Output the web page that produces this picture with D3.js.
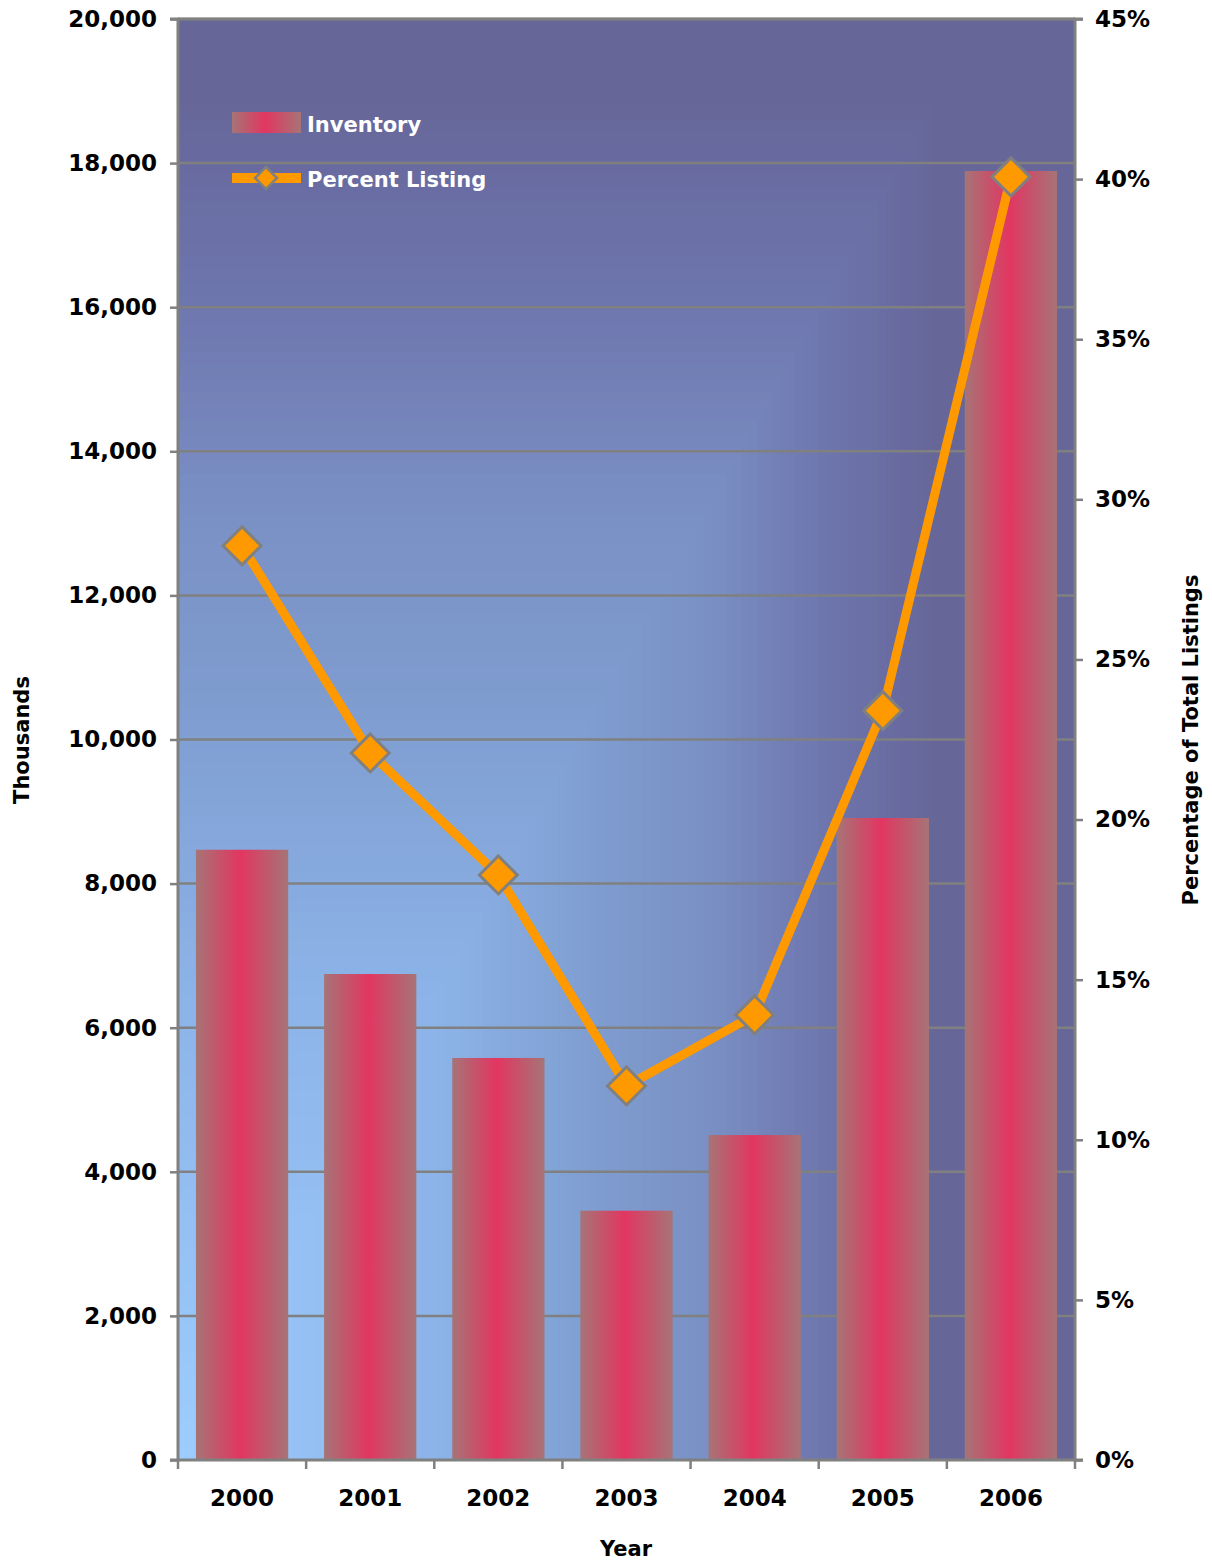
<!DOCTYPE html>
<html><head><meta charset="utf-8">
<script src="https://cdn.jsdelivr.net/npm/d3@7"></script>
<style>body{margin:0;background:#fff;} text{font-family:"DejaVu Sans",sans-serif;font-weight:bold;}</style>
</head><body>
<svg id="c" width="1212" height="1564"></svg>
<script>
const years = ["2000","2001","2002","2003","2004","2005","2006"];
const inventory = [8470, 6745, 5580, 3460, 4510, 8910, 17890];
const percentListing = [0.2855, 0.2208, 0.1827, 0.1168, 0.1390, 0.2340, 0.4007];
const leftTicks = [0,2000,4000,6000,8000,10000,12000,14000,16000,18000,20000];
const rightTicks = [0,0.05,0.10,0.15,0.20,0.25,0.30,0.35,0.40,0.45];

const svg = d3.select("#c");
const L=178, R=1075, T=19, B=1460, W=R-L, H=B-T;
const x = d3.scaleBand().domain(years).range([L,R]).paddingInner(0.28).paddingOuter(0.14);
const xb = d3.scaleBand().domain(years).range([L,R]);
const y = d3.scaleLinear().domain([0,20000]).range([B,T]);
const y2 = d3.scaleLinear().domain([0,0.45]).range([B,T]);

const defs = svg.append("defs");
const bar = defs.append("linearGradient").attr("id","bar").attr("x1",0).attr("x2",1).attr("y1",0).attr("y2",0);
bar.append("stop").attr("offset","0%").attr("stop-color","#a67476");
bar.append("stop").attr("offset","48%").attr("stop-color","#e23661");
bar.append("stop").attr("offset","100%").attr("stop-color","#a67476");

// "from corner" background gradient, drawn as nested bands anchored at bottom-left
const ramp = d3.scaleLinear().domain([0,0.35,0.55,0.7,0.85,1])
  .range(["#9dcdff","#8cb3e8","#7f9dd0","#7a90c4","#6e76ae","#666699"]).interpolate(d3.interpolateRgb);
const su=0.85, sv=0.95;
const bands = d3.range(100,-1,-1).map(k=>k/100);
svg.append("g").selectAll("rect").data(bands).join("rect")
  .attr("x",L)
  .attr("width",t=>t===1?W:Math.min(W,t*su*W))
  .attr("y",t=>t===1?T:B-Math.min(H,t*sv*H))
  .attr("height",t=>t===1?H:Math.min(H,t*sv*H))
  .attr("fill",t=>ramp(t));

// gridlines
svg.append("g").selectAll("line").data(leftTicks.slice(1)).join("line")
  .attr("x1",L).attr("x2",R).attr("y1",d=>y(d)).attr("y2",d=>y(d))
  .attr("stroke","#808080").attr("stroke-width",2.5);

// bars
svg.append("g").selectAll("rect").data(years).join("rect")
  .attr("x",d=>x(d)).attr("width",x.bandwidth())
  .attr("y",(d,i)=>y(inventory[i])).attr("height",(d,i)=>B-y(inventory[i]))
  .attr("fill","url(#bar)");

// axes
const axL = svg.append("g").attr("transform",`translate(${L},0)`)
  .call(d3.axisLeft(y).tickValues(leftTicks).tickFormat(d3.format(",")).tickSize(8).tickPadding(13));
const axR = svg.append("g").attr("transform",`translate(${R},0)`)
  .call(d3.axisRight(y2).tickValues(rightTicks).tickFormat(d=>Math.round(d*100)+"%").tickSize(8).tickPadding(12));
const axB = svg.append("g").attr("transform",`translate(0,${B})`)
  .call(d3.axisBottom(xb).tickSize(0).tickPadding(30));
svg.append("g").selectAll("line").data(d3.range(years.length+1)).join("line")
  .attr("x1",i=>L+i*xb.step()).attr("x2",i=>L+i*xb.step()).attr("y1",B).attr("y2",B+9)
  .attr("stroke","#808080").attr("stroke-width",2.5);
[axL,axR,axB].forEach(a=>{
  a.selectAll(".domain").attr("stroke","#808080").attr("stroke-width",3);
  a.selectAll(".tick line").attr("stroke","#808080").attr("stroke-width",2.5);
  a.selectAll("text").attr("fill","#000").style("font-size","23px").style("font-family","'DejaVu Sans',sans-serif").style("font-weight","bold");
});
axL.select(".domain").attr("d",`M-8,${T}H0V${B}H-8`);
axR.select(".domain").attr("d",`M8,${T}H0V${B}H8`);
axB.select(".domain").attr("d",`M${L},0H${R}`);
axB.selectAll(".tick text").attr("dy","0.71em");
svg.append("line").attr("x1",L).attr("x2",R).attr("y1",T).attr("y2",T).attr("stroke","#808080").attr("stroke-width",3);

// line
const cx = d=>xb(d)+xb.bandwidth()/2;
svg.append("path").datum(years)
  .attr("d",d3.line().x(d=>cx(d)).y((d,i)=>y2(percentListing[i])))
  .attr("fill","none").attr("stroke","#ff9900").attr("stroke-width",9).attr("stroke-linejoin","round");
const dm = 19;
svg.append("g").selectAll("path").data(years).join("path")
  .attr("transform",(d,i)=>`translate(${cx(d)},${y2(percentListing[i])})`)
  .attr("d",`M0,${-dm}L${dm},0L0,${dm}L${-dm},0Z`)
  .attr("fill","#ff9900").attr("stroke","#808080").attr("stroke-width",3);

// axis titles
svg.append("text").attr("transform","translate(29,740) rotate(-90)").attr("text-anchor","middle").style("font-size","21px").text("Thousands");
svg.append("text").attr("transform","translate(1198,740) rotate(-90)").attr("text-anchor","middle").style("font-size","21px").text("Percentage of Total Listings");
svg.append("text").attr("x",626).attr("y",1556).attr("text-anchor","middle").style("font-size","21px").text("Year");

// legend
const lg = svg.append("g");
lg.append("rect").attr("x",232).attr("y",112).attr("width",69).attr("height",21).attr("fill","url(#bar)");
lg.append("text").attr("x",307).attr("y",132).attr("fill","#fff").style("font-size","21px").text("Inventory");
lg.append("line").attr("x1",232).attr("x2",301).attr("y1",178).attr("y2",178).attr("stroke","#ff9900").attr("stroke-width",10);
lg.append("path").attr("transform","translate(266,178)").attr("d","M0,-11L11,0L0,11L-11,0Z").attr("fill","#ff9900").attr("stroke","#808080").attr("stroke-width",2.5);
lg.append("text").attr("x",307).attr("y",187).attr("fill","#fff").style("font-size","21px").text("Percent Listing");
</script>
</body></html>
